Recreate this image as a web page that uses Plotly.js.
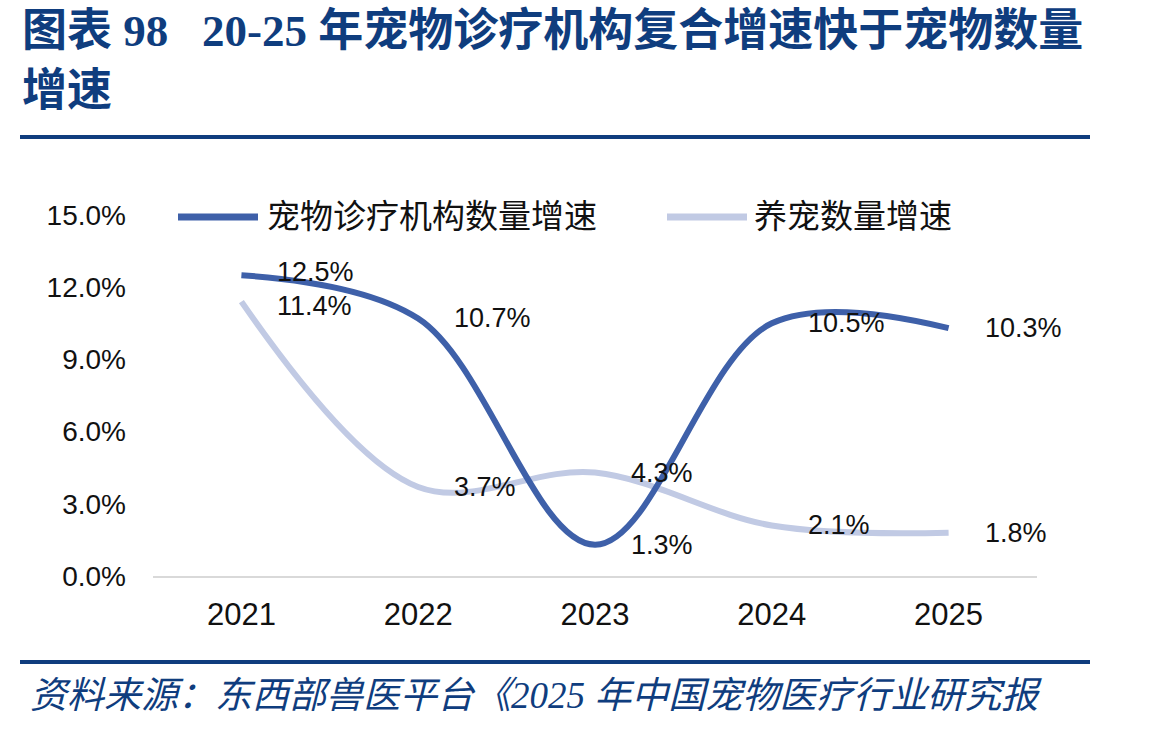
<!DOCTYPE html>
<html>
<head>
<meta charset="utf-8">
<script src="https://cdn.plot.ly/plotly-3.0.1.min.js"></script>
<style>
html,body{margin:0;padding:0;background:#fff;}
#chart{width:1149px;height:731px;}
</style>
</head>
<body>
<div id="chart"></div>
<script>
// ---- data ----
const years = ['2021', '2022', '2023', '2024', '2025'];
const clinicGrowth = [12.5, 10.7, 1.3, 10.5, 10.3];   // 宠物诊疗机构数量增速 (%)
const petGrowth = [11.4, 3.7, 4.3, 2.1, 1.8];         // 养宠数量增速 (%)
const seriesNames = ['宠物诊疗机构数量增速', '养宠数量增速'];
const yTickVals = [0, 3, 6, 9, 12, 15];
const yTickText = ['0.0%', '3.0%', '6.0%', '9.0%', '12.0%', '15.0%'];
const titleLine1 = '图表 98&nbsp;&nbsp;&nbsp;20-25 年宠物诊疗机构复合增速快于宠物数量';
const titleLine2 = '增速';
const sourceText = '资料来源：东西部兽医平台《2025 年中国宠物医疗行业研究报';

// ---- style ----
const W = 1149, H = 731;
const M = {l: 153, r: 112, t: 215, b: 155};
const PW = W - M.l - M.r, PH = H - M.t - M.b;
const px = x => (x - M.l) / PW;           // pixel -> paper x
const py = y => (H - M.b - y) / PH;       // pixel -> paper y
const navy = '#0F3D7E';
const col1 = '#3E60A9';
const col2 = '#C1CAE4';
const numFont = {family: 'Liberation Sans, Arial, sans-serif', size: 28, color: '#111'};
const labelFont = {family: 'Liberation Sans, Arial, sans-serif', size: 27, color: '#111'};
const yearFont = {family: 'Liberation Sans, Arial, sans-serif', size: 31, color: '#111'};
const cjkFont = {family: 'Liberation Sans, Noto Sans CJK SC, sans-serif', size: 33, color: '#111'};

const traces = [
  {x: years, y: petGrowth, name: seriesNames[1], type: 'scatter', mode: 'lines',
   line: {color: col2, width: 6, shape: 'spline', smoothing: 1}, cliponaxis: false},
  {x: years, y: clinicGrowth, name: seriesNames[0], type: 'scatter', mode: 'lines',
   line: {color: col1, width: 6, shape: 'spline', smoothing: 1}, cliponaxis: false}
];

const annotations = [];
// small vertical nudges keep the two 2021 labels apart (as in the reference)
function addLabels(vals, firstShift) {
  vals.forEach((v, i) => annotations.push({
    x: i, y: v, xref: 'x', yref: 'y', text: v.toFixed(1) + '%',
    showarrow: false, xanchor: 'left', yanchor: 'middle', xshift: 34,
    yshift: i === 0 ? firstShift : 0, font: labelFont
  }));
}
addLabels(clinicGrowth, 3);
addLabels(petGrowth, -4);

// title
const titleFont = {family: 'Liberation Serif, Noto Sans CJK SC, serif', size: 45, color: navy};
annotations.push({xref: 'paper', yref: 'paper', x: px(20), y: py(31), xanchor: 'left', yanchor: 'middle',
  text: '<b>' + titleLine1 + '</b>', showarrow: false, font: titleFont});
annotations.push({xref: 'paper', yref: 'paper', x: px(20), y: py(91), xanchor: 'left', yanchor: 'middle',
  text: '<b>' + titleLine2 + '</b>', showarrow: false, font: titleFont});
// source
annotations.push({xref: 'paper', yref: 'paper', x: px(28), y: py(695), xanchor: 'left', yanchor: 'middle',
  text: '<i>' + sourceText + '</i>', showarrow: false,
  font: {family: 'Liberation Serif, Noto Sans CJK SC, serif', size: 37, color: navy}});

// legend (manual)
const legendItems = [
  {name: seriesNames[0], color: col1, x0: 178, x1: 258, tx: 265},
  {name: seriesNames[1], color: col2, x0: 667, x1: 747, tx: 752}
];
const shapes = [];
legendItems.forEach(it => {
  shapes.push({type: 'line', xref: 'paper', yref: 'paper', x0: px(it.x0), x1: px(it.x1), y0: py(217), y1: py(217),
    line: {color: it.color, width: 7}});
  annotations.push({xref: 'paper', yref: 'paper', x: px(it.tx), y: py(217), xanchor: 'left', yanchor: 'middle',
    text: it.name, showarrow: false, font: cjkFont});
});
// rules
shapes.push({type: 'line', xref: 'paper', yref: 'paper', x0: px(20), x1: px(1090), y0: py(137), y1: py(137),
  line: {color: navy, width: 4}});
shapes.push({type: 'line', xref: 'paper', yref: 'paper', x0: px(20), x1: px(1090), y0: py(662), y1: py(662),
  line: {color: navy, width: 4}});

const layout = {
  width: W, height: H,
  margin: M,
  paper_bgcolor: '#fff', plot_bgcolor: '#fff',
  showlegend: false,
  xaxis: {
    type: 'category', range: [-0.5, 4.5], showgrid: false, zeroline: false,
    showline: true, linecolor: '#D9D9D9', linewidth: 2,
    ticks: '', ticklabelstandoff: 10, tickfont: yearFont
  },
  yaxis: {
    range: [0, 15], tickvals: yTickVals, ticktext: yTickText, showgrid: false, zeroline: false,
    showline: false, ticks: '', ticklabelstandoff: 26, tickfont: numFont
  },
  annotations: annotations,
  shapes: shapes
};

Plotly.newPlot('chart', traces, layout, {staticPlot: true, displayModeBar: false});
</script>
</body>
</html>
